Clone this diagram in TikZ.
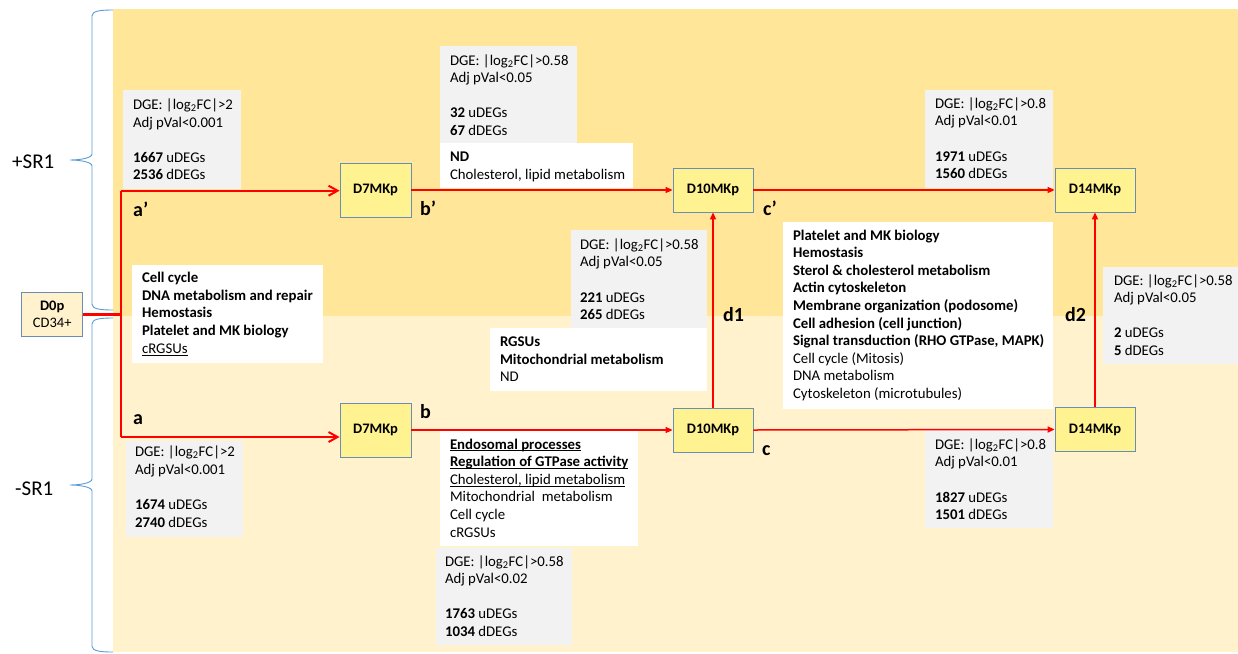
\documentclass[tikz,border=0pt]{standalone}
\usepackage{fontspec}
\setmainfont{Carlito}
\usetikzlibrary{arrows.meta,calc}
\definecolor{bgup}{HTML}{FFE699}
\definecolor{bglo}{HTML}{FFF2CC}
\definecolor{panelgrey}{HTML}{F2F2F2}
\definecolor{nodefill}{HTML}{FFF391}
\definecolor{nodeline}{HTML}{6A8DB5}
\definecolor{bracecol}{HTML}{5B9BD5}
\definecolor{flow}{HTML}{FF0000}
\newcommand\lfc[1]{DGE: |log\textsubscript{2}FC|>#1}
\newcommand\uln[1]{\setbox0\hbox{#1}\rlap{\rule[-2.2pt]{\wd0}{0.8pt}}\box0}
\begin{document}
\begin{tikzpicture}[x=1pt,y=-1pt,
 panel/.style={anchor=north west, inner sep=0pt, outer sep=0pt, draw=none},
 greypanel/.style={panel, fill=panelgrey},
 whitepanel/.style={panel, fill=white},
 txt/.style={anchor=north west, inner sep=0pt, outer sep=0pt, align=left, font=\fontsize{14.8}{17.6}\selectfont},
 stage/.style={draw=nodeline, fill=nodefill, line width=0.8pt, inner sep=0pt, font=\fontsize{14.5}{17.6}\selectfont\bfseries},
 lbl/.style={anchor=base west, inner sep=0pt, font=\fontsize{20}{24}\selectfont\bfseries},
 flowline/.style={draw=flow, line width=1.5pt},
 tipopen/.style={-{Straight Barb[length=9pt,width=10pt]}},
 tipfill/.style={-{Triangle[length=7pt,width=6pt]}},
 brace/.style={draw=bracecol, line width=0.9pt},
]
\useasboundingbox (0,0) rectangle (1238,653);
% backgrounds
\fill[bgup] (113,9) rectangle (1238,316);
\fill[bglo] (113,316) rectangle (1238,652);
% braces
\draw[brace] (113,10) .. controls (100,10) and (92,11) .. (92,16) -- (92,154)
  .. controls (92,158) and (80,160) .. (70,160) .. controls (80,160) and (92,162) .. (92,166)
  -- (92,304) .. controls (92,309) and (100,310) .. (113,310);
\draw[brace] (113,318) .. controls (100,318) and (92,319) .. (92,324) -- (92,479)
  .. controls (92,483) and (80,485) .. (70,485) .. controls (80,485) and (92,487) .. (92,491)
  -- (92,646) .. controls (92,651) and (100,652) .. (113,652);
\node[anchor=base west, inner sep=0pt, font=\fontsize{21}{25}\selectfont] (sru) at (12,168) {+SR1};
\node[anchor=base west, inner sep=0pt, font=\fontsize{21}{25}\selectfont] (srl) at (15,495.7) {-SR1};

% panels
\node[greypanel, minimum width=118pt, minimum height=99pt] (p1) at (123,90) {};
\node[greypanel, minimum width=137pt, minimum height=97pt] (p2) at (440,46) {};
\node[whitepanel, minimum width=193pt, minimum height=45pt] (p2w) at (440,143) {};
\node[greypanel, minimum width=128pt, minimum height=98pt] (p3) at (925,90) {};
\node[greypanel, minimum width=136pt, minimum height=98pt] (p4) at (571,230) {};
\node[whitepanel, minimum width=217pt, minimum height=63pt] (p5) at (490,328) {};
\node[whitepanel, minimum width=270pt, minimum height=187pt] (p6) at (783,222) {};
\node[greypanel, minimum width=135pt, minimum height=97pt] (p7) at (1103,267) {};
\node[whitepanel, minimum width=191pt, minimum height=98pt] (p8) at (132,265) {};
\node[greypanel, minimum width=117pt, minimum height=96pt] (p9) at (126,441) {};
\node[whitepanel, minimum width=198pt, minimum height=116pt] (p10) at (440,430) {};
\node[greypanel, minimum width=136pt, minimum height=97pt] (p11) at (436,548) {};
\node[greypanel, minimum width=128pt, minimum height=98pt] (p12) at (925,430) {};

% panel texts
\node[txt] (t1) at (133,{109.5-12.32}) {\strut\lfc{2}\\Adj pVal<0.001\\[17.6pt]\textbf{1667} uDEGs\\\textbf{2536} dDEGs};
\node[txt] (t2) at (450,{65-12.32}) {\strut\lfc{0.58}\\Adj pVal<0.05\\[17.6pt]\textbf{32} uDEGs\\\textbf{67} dDEGs};
\node[txt] (t2w) at (450,{161.7-12.32}) {\strut\textbf{ND}\\Cholesterol, lipid metabolism};
\node[txt] (t3) at (935,{108.3-12.32}) {\strut\lfc{0.8}\\Adj pVal<0.01\\[17.6pt]\textbf{1971} uDEGs\\\textbf{1560} dDEGs};
\node[txt] (t4) at (580,{249.3-12.32}) {\strut\lfc{0.58}\\Adj pVal<0.05\\[17.6pt]\textbf{221} uDEGs\\\textbf{265} dDEGs};
\node[txt] (t5) at (500,{346.7-12.32}) {\strut\textbf{RGSUs}\\\textbf{Mitochondrial metabolism}\\ND};
\node[txt] (t6) at (793,{240-12.32}) {\strut\textbf{Platelet and MK biology}\\\textbf{Hemostasis}\\\textbf{Sterol \& cholesterol metabolism}\\\textbf{Actin cytoskeleton}\\\textbf{Membrane organization (podosome)}\\\textbf{Cell adhesion (cell junction)}\\\textbf{Signal transduction (RHO GTPase, MAPK)}\\Cell cycle (Mitosis)\\DNA metabolism\\Cytoskeleton (microtubules)};
\node[txt] (t7) at (1114,{285-12.32}) {\strut\lfc{0.58}\\Adj pVal<0.05\\[17.6pt]\textbf{2} uDEGs\\\textbf{5} dDEGs};
\node[txt] (t8) at (142,{282.7-12.32}) {\strut\textbf{Cell cycle}\\\textbf{DNA metabolism and repair}\\\textbf{Hemostasis}\\\textbf{Platelet and MK biology}\\\uln{cRGSUs}};
\node[txt] (t9) at (135,{456.7-12.32}) {\strut\lfc{2}\\Adj pVal<0.001\\[17.6pt]\textbf{1674} uDEGs\\\textbf{2740} dDEGs};
\node[txt] (t10) at (450,{449-12.32}) {\strut\uln{\textbf{Endosomal processes}}\\\uln{\textbf{Regulation of GTPase activity}}\\\uln{Cholesterol, lipid metabolism}\\Mitochondrial\ \ metabolism\\Cell cycle\\cRGSUs};
\node[txt] (t11) at (445,{566-12.32}) {\strut\lfc{0.58}\\Adj pVal<0.02\\[17.6pt]\textbf{1763} uDEGs\\\textbf{1034} dDEGs};
\node[txt] (t12) at (935,{449.3-12.32}) {\strut\lfc{0.8}\\Adj pVal<0.01\\[17.6pt]\textbf{1827} uDEGs\\\textbf{1501} dDEGs};

% stage nodes
\node[draw=nodeline, fill=bglo, line width=0.8pt, minimum width=61pt, minimum height=44pt, inner sep=0pt, align=center, font=\fontsize{14.5}{17.4}\selectfont] (d0) at (52.2,314) {\textbf{D0p}\\CD34+};
\node[stage, minimum width=71pt, minimum height=54pt] (d7u) at (375.5,190) {D7MKp};
\node[stage, minimum width=71pt, minimum height=54pt] (d7l) at (375.5,430) {D7MKp};
\node[stage, minimum width=80pt, minimum height=44pt] (d10u) at (713,190) {D10MKp};
\node[stage, minimum width=80pt, minimum height=44pt] (d10l) at (713,430) {D10MKp};
\node[stage, minimum width=80pt, minimum height=44pt] (d14u) at (1095,190) {D14MKp};
\node[stage, minimum width=80pt, minimum height=44pt] (d14l) at (1095,429.5) {D14MKp};

% connectors
\coordinate (ju) at (120.5,190.7);
\coordinate (jl) at (120.5,437);
\draw[flowline, line width=3pt] (d0.east) -- (d0.east -| ju);
\draw[flowline, line width=2pt] (ju) -- (jl);
\draw[flowline, line width=2pt, tipopen] (ju) -- (d7u.west |- ju);
\draw[flowline, line width=2pt, tipopen] (jl) -- (d7l.west |- jl);
\draw[flowline, tipfill] (d7u.east) -- (d10u.west);
\draw[flowline, tipfill] (d10u.east) -- (d14u.west);
\draw[flowline, tipfill] (d7l.east) -- (d10l.west);
\draw[flowline, tipfill] (d10l.east) -- (d14l.west);
\draw[flowline, tipfill] (d10l.north) -- (d10u.south);
\draw[flowline, tipfill] (d14l.north) -- (d14u.south);

% connector labels
\node[lbl] (la1) at (133,216.7) {a’};
\node[lbl] (lb1) at (420,215) {b’};
\node[lbl] (lc1) at (763,215) {c’};
\node[lbl] (la) at (133,424.3) {a};
\node[lbl] (lb) at (420,418) {b};
\node[lbl] (lc) at (762,455.7) {c};
\node[lbl] (ld1) at (723,321.7) {d1};
\node[lbl] (ld2) at (1065,321.7) {d2};
\end{tikzpicture}
\end{document}
